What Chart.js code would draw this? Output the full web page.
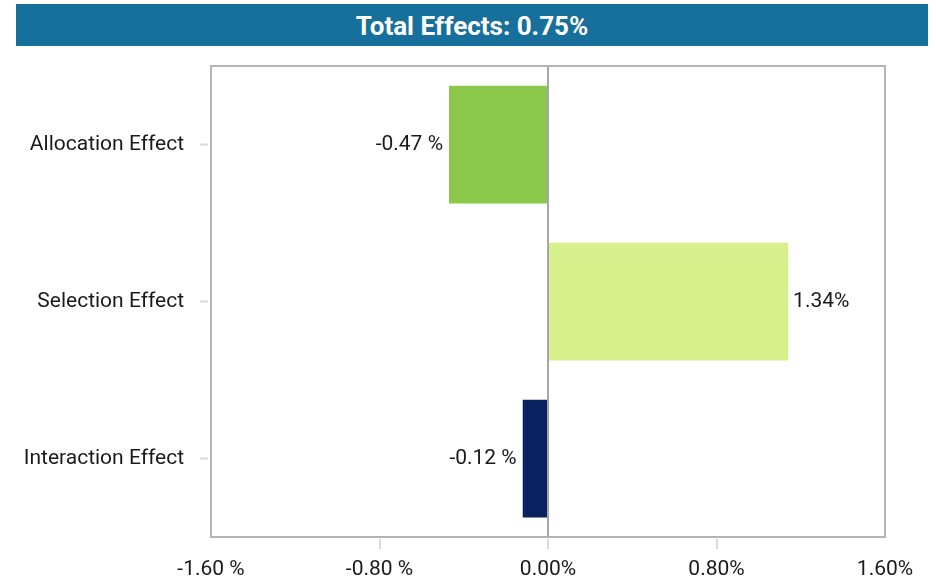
<!DOCTYPE html>
<html>
<head>
<meta charset="utf-8">
<script src="https://cdn.jsdelivr.net/npm/chart.js@4"></script>
<style>
    body { margin: 0; background: #fff; font-family: Roboto, sans-serif; }
    #titleBar {
        position: absolute; left: 16px; top: 4px; width: 912px; height: 42px;
        background: #17709c; color: #fff; text-align: center;
        font-weight: bold; font-size: 26px; line-height: 44px;
    }
    #wrap { position: absolute; left: 0; top: 46px; width: 936px; height: 534px; }
</style>
</head>
<body>
<div id="titleBar">Total Effects: 0.75%</div>
<div id="wrap"><canvas id="chart"></canvas></div>
<script>
// Chart data
const categories = ['Allocation Effect', 'Selection Effect', 'Interaction Effect'];
const effectValues = [-0.47, 1.14, -0.12];
const valueLabels = ['-0.47 %', '1.34%', '-0.12 %'];
const barColors = ['#8cc94b', '#d7f08c', '#0b2260'];
const xTickLabels = ['-1.60 %', '-0.80 %', '0.00%', '0.80%', '1.60%'];

const textColor = '#1a1a1a';
const labelFont = { family: 'Roboto', size: 21 };

// Draws the grey frame round the plot area
const framePlugin = {
    id: 'frame',
    afterDraw(chart) {
        const { ctx, chartArea: a } = chart;
        ctx.save();
        ctx.strokeStyle = '#b3b3b3';
        ctx.lineWidth = 2;
        ctx.strokeRect(a.left, a.top, a.right - a.left, a.bottom - a.top);
        ctx.restore();
    }
};

// Value labels at the end of each bar
const valueLabelPlugin = {
    id: 'valueLabels',
    afterDatasetsDraw(chart) {
        const { ctx } = chart;
        const meta = chart.getDatasetMeta(0);
        ctx.save();
        ctx.font = `${labelFont.size}px ${labelFont.family}`;
        ctx.fillStyle = textColor;
        ctx.textBaseline = 'middle';
        meta.data.forEach((bar, i) => {
            if (effectValues[i] < 0) {
                ctx.textAlign = 'right';
                ctx.fillText(valueLabels[i], bar.x - 6, bar.y);
            } else {
                ctx.textAlign = 'left';
                ctx.fillText(valueLabels[i], bar.x + 5, bar.y);
            }
        });
        ctx.restore();
    }
};

new Chart(document.getElementById('chart'), {
    type: 'bar',
    data: {
        labels: categories,
        datasets: [{
            data: effectValues,
            backgroundColor: barColors,
            barPercentage: 0.75,
            categoryPercentage: 1
        }]
    },
    options: {
        indexAxis: 'y',
        responsive: true,
        maintainAspectRatio: false,
        animation: false,
        layout: { padding: { top: 20, right: 51, bottom: 0, left: 0 } },
        plugins: {
            legend: { display: false },
            tooltip: { enabled: false }
        },
        scales: {
            x: {
                min: -1.6,
                max: 1.6,
                afterFit: (scale) => { scale.height = 43; },
                border: { display: false },
                grid: {
                    color: (c) => (c.tick && c.tick.value === 0 ? '#a6a6a6' : 'transparent'),
                    lineWidth: 2,
                    tickColor: (c) => (c.index === 0 || c.index === 4 ? 'transparent' : '#d9d9d9'),
                    tickLength: 12,
                    tickWidth: 2,
                    tickBorderDash: [0, 2, 10, 100]
                },
                ticks: {
                    stepSize: 0.8,
                    maxRotation: 0,
                    padding: 8,
                    color: textColor,
                    font: labelFont,
                    callback: (v, i) => xTickLabels[i]
                }
            },
            y: {
                afterFit: (scale) => {
                    scale.width = 211;
                    scale.paddingTop = 0;
                    scale.paddingBottom = 0;
                },
                border: { display: false },
                grid: {
                    offset: false,
                    drawOnChartArea: false,
                    tickColor: '#d9d9d9',
                    tickLength: 11,
                    tickWidth: 2,
                    tickBorderDash: [8, 100]
                },
                ticks: {
                    padding: 16,
                    color: textColor,
                    font: labelFont
                }
            }
        }
    },
    plugins: [framePlugin, valueLabelPlugin]
});
</script>
</body>
</html>
